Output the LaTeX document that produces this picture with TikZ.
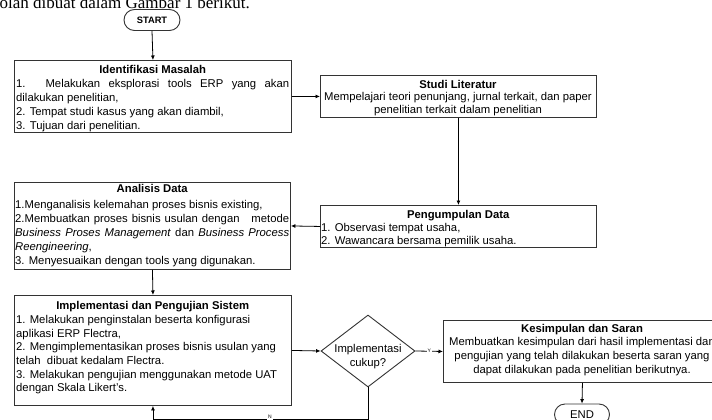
\documentclass[tikz,border=0pt]{standalone}
\usepackage{fontspec}
\setmainfont{Liberation Sans}
\newfontfamily\serifhead{Liberation Serif}
\usetikzlibrary{arrows.meta,shapes.geometric,shapes.misc}
\begin{document}
\begin{tikzpicture}[x=1pt,y=-1pt,
  box/.style={draw=black!80, line width=0.9pt, inner sep=0pt, anchor=north west},
  txt/.style={inner sep=0pt, anchor=north west, align=left},
  ctxt/.style={inner sep=0pt, anchor=north, align=center},
  conn/.style={draw=black, line width=0.8pt},
  arr/.style={conn, -{Latex[length=4.5pt,width=4pt]}},
  term/.style={draw=black!80, line width=0.9pt, rounded rectangle, inner sep=0pt},
  lab/.style={font=\fontsize{5}{5}\selectfont, fill=white, inner sep=0.8pt}]
\clip (0,0) rectangle (712,420);
\fill[white] (0,0) rectangle (712,420);

% header (cut off)
\node[anchor=base east, font=\serifhead\fontsize{17}{17}\selectfont, inner sep=0pt] (head) at (250,8.5) {olah dibuat dalam Gambar 1 berikut.};

% START
\node[term, minimum width=56pt, minimum height=21pt, font=\bfseries\fontsize{9.3}{10}\selectfont] (start) at (152,20) {START};

% Identifikasi Masalah
\node[box, minimum width=277pt, minimum height=72pt] (ident) at (14,60) {};
\node[txt, font=\fontsize{11.3}{14}\selectfont] (identT) at (16,64.8) {%
\makebox[273pt][c]{\bfseries Identifikasi Masalah}\\
\makebox[273pt][s]{1. Melakukan eksplorasi tools ERP yang akan}\\
dilakukan penelitian,\\
2. Tempat studi kasus yang akan diambil,\\
3. Tujuan dari penelitian.};

% Studi Literatur
\node[box, minimum width=276pt, minimum height=42pt] (studi) at (320,75) {};
\node[ctxt, font=\fontsize{11.3}{12.6}\selectfont] (studiT) at (458,79.8) {%
\textbf{Studi Literatur}\\
Mempelajari teori penunjang, jurnal terkait, dan paper\\
penelitian terkait dalam penelitian};

% Pengumpulan Data
\node[box, minimum width=276pt, minimum height=42pt] (peng) at (320,205) {};
\node[txt, font=\fontsize{11.3}{13}\selectfont] (pengT) at (321,209.8) {%
\makebox[274pt][c]{\bfseries Pengumpulan Data}\\
1. Observasi tempat usaha,\\
2. Wawancara bersama pemilik usaha.};

% Analisis Data
\node[box, minimum width=276pt, minimum height=87pt] (anal) at (14,182) {};
\node[txt, font=\fontsize{11.3}{14}\selectfont] (analT) at (15,184.5) {%
\makebox[274pt][c]{\bfseries Analisis Data}\\[1.5pt]
1.Menganalisis kelemahan proses bisnis existing,\\
\makebox[274pt][s]{2.Membuatkan proses bisnis usulan dengan \ \ metode}\\
\makebox[274pt][s]{\textit{Business Proses Management} dan \textit{Business Process}}\\
\textit{Reengineering},\\
3. Menyesuaikan dengan tools yang digunakan.};

% Implementasi dan Pengujian Sistem
\node[box, minimum width=277pt, minimum height=110pt] (impl) at (14,295) {};
\node[txt, font=\fontsize{11.3}{13.6}\selectfont] (implT) at (16,300.8) {%
\makebox[273pt][c]{\bfseries Implementasi dan Pengujian Sistem}\\[1pt]
1. Melakukan penginstalan beserta konfigurasi\\
aplikasi ERP Flectra,\\
2. Mengimplementasikan proses bisnis usulan yang\\
telah \ dibuat kedalam Flectra.\\
3. Melakukan pengujian menggunakan metode UAT\\
dengan Skala Likert's.};

% Decision
\node[draw=black!80, line width=0.9pt, diamond, minimum width=94pt, minimum height=72pt, inner sep=0pt] (dia) at (368,351) {};
\node[ctxt, font=\fontsize{11.3}{14}\selectfont] (diaT) at (368,343.8) {Implementasi\\cukup?};

% Kesimpulan dan Saran
\node[box, minimum width=278pt, minimum height=62pt] (kes) at (443,320) {};
\node[ctxt, font=\fontsize{11.3}{13.7}\selectfont] (kesT) at (582,323.8) {%
\textbf{Kesimpulan dan Saran}\\
Membuatkan kesimpulan dari hasil implementasi dan\\
pengujian yang telah dilakukan beserta saran yang\\
dapat dilakukan pada penelitian berikutnya.};

% END
\node[term, minimum width=55pt, minimum height=21pt, font=\fontsize{11.3}{12}\selectfont] (end) at (582,414.5) {END};

% connectors
\draw[arr] (start.south) -- (ident.north);
\draw[arr] (ident.east) -- (studi.west);
\draw[arr] (studi.south) -- (peng.north);
\draw[arr] (peng.west) -- (anal.east);
\draw[arr] (anal.south) -- (impl.north);
\draw[arr] (impl.east) -- (dia.west);
\draw[arr] (dia.east) -- node[lab] {Y} (kes.west);
\draw[arr] (kes.south) -- (end.north);
\coordinate (fb) at (368,419.5);
\draw[arr] (dia.south) -- (fb) -| (impl.south);
\node[lab] (nlab) at (270,417) {N};
\end{tikzpicture}
\end{document}
